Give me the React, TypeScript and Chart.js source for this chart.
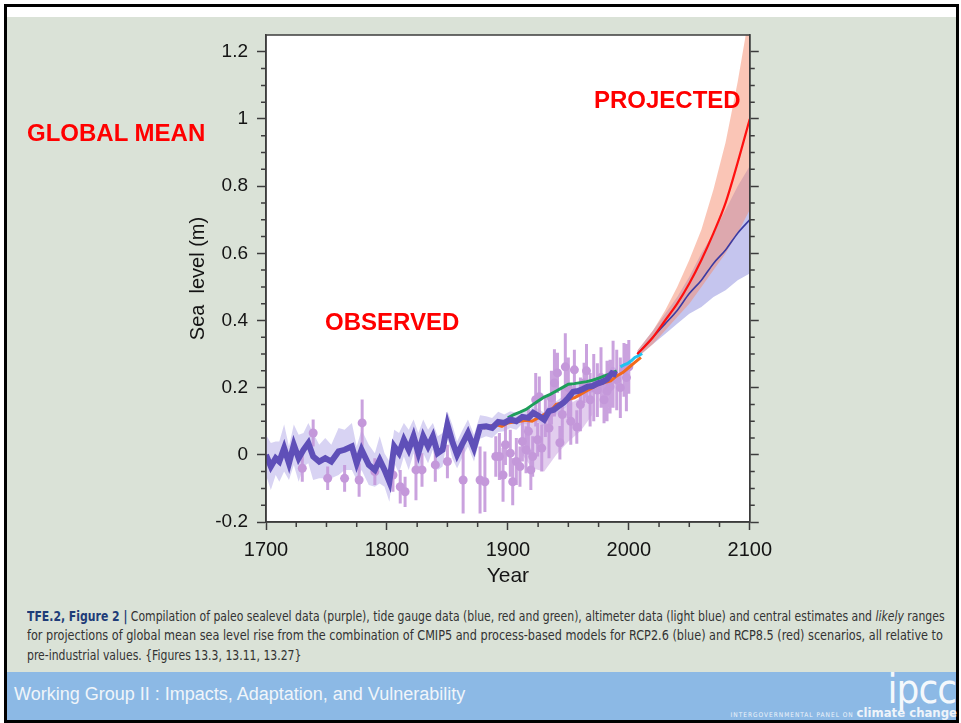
import React, { useEffect, useLayoutEffect, useRef } from 'react';
import { Chart, registerables } from 'chart.js';

Chart.register(...registerables);

// ---------- DATA ----------
const paleoYears = [
  1700, 1704, 1708, 1711, 1715, 1719, 1723, 1727, 1731, 1735,
  1739, 1744, 1749, 1754, 1760, 1765, 1771, 1775, 1779, 1785,
  1790, 1794, 1798, 1802, 1806, 1810, 1814, 1818, 1822, 1826,
  1830, 1834, 1838, 1842, 1846, 1850, 1854, 1858, 1862, 1867,
  1872, 1877, 1882, 1887, 1892, 1897, 1902, 1907, 1912, 1917,
  1921, 1926, 1930, 1934, 1938, 1942, 1946, 1950, 1954, 1958,
  1962, 1966, 1970, 1974, 1978, 1982, 1986, 1990,
];
const paleoLevel = [
  0.0, -0.035, -0.01, -0.02, 0.02, -0.025, 0.03, -0.01, 0.015, 0.035,
  -0.005, -0.02, -0.01, -0.02, 0.01, 0.015, 0.025, -0.025, 0.015, -0.03,
  -0.045, -0.015, -0.045, -0.08, 0.025, 0.005, 0.045, 0.015, 0.055, 0.005,
  0.055, 0.025, 0.055, 0.005, 0.015, 0.09, 0.04, 0.0, 0.03, 0.065,
  0.02, 0.083, 0.085, 0.08, 0.098, 0.095, 0.105, 0.1, 0.113, 0.11,
  0.125, 0.115, 0.105, 0.13, 0.134, 0.145, 0.155, 0.17, 0.188, 0.19,
  0.196, 0.203, 0.205, 0.212, 0.217, 0.225, 0.243, 0.238,
];
const paleoErr = [
  0.06, 0.07, 0.05, 0.06, 0.07, 0.05, 0.06, 0.07, 0.05, 0.06,
  0.07, 0.05, 0.06, 0.05, 0.07, 0.06, 0.07, 0.05, 0.06, 0.06,
  0.05, 0.07, 0.05, 0.06, 0.05, 0.06, 0.05, 0.06, 0.05, 0.06,
  0.05, 0.05, 0.04, 0.05, 0.05, 0.04, 0.05, 0.04, 0.04, 0.04,
  0.04, 0.035, 0.03, 0.03, 0.03, 0.025, 0.025, 0.025, 0.02, 0.02,
  0.02, 0.02, 0.02, 0.02, 0.02, 0.02, 0.02, 0.02, 0.02, 0.02,
  0.02, 0.02, 0.02, 0.02, 0.02, 0.02, 0.02, 0.02,
];

const proxyYears = [
  1730, 1739, 1751, 1765, 1777, 1779.5, 1790, 1805, 1811, 1815,
  1824, 1829, 1840, 1850, 1863, 1877, 1881, 1890, 1893, 1896,
  1898, 1902, 1904, 1907, 1910, 1912, 1915, 1917, 1919, 1920.5,
  1923, 1924.6, 1926, 1928, 1931, 1934, 1936, 1938.5, 1941, 1943,
  1945, 1947.5, 1950, 1952, 1955, 1957, 1960, 1963, 1965, 1968,
  1971, 1974, 1977, 1979.5, 1982, 1984.5, 1987, 1990, 1993, 1996,
  1998, 2000,
];
const proxyLevel = [
  -0.04, 0.065, -0.07, -0.07, -0.075, 0.095, -0.05, -0.06, -0.095, -0.11,
  -0.045, -0.045, -0.03, -0.02, -0.075, -0.075, -0.08, -0.005, -0.005, -0.06,
  0.03, 0.005, -0.08, -0.02, -0.035, 0.04, 0.015, 0.07, -0.045, -0.005,
  0.164, 0.045, 0.173, 0.02, 0.113, 0.08, 0.17, 0.214, 0.244, 0.036,
  0.12, 0.262, 0.2, 0.1, 0.253, 0.083, 0.15, 0.214, 0.25, 0.164,
  0.2, 0.193, 0.23, 0.164, 0.19, 0.203, 0.24, 0.223, 0.2, 0.253,
  0.23, 0.262,
];
const proxyErr = [
  0.04, 0.04, 0.035, 0.04, 0.05, 0.07, 0.04, 0.05, 0.05, 0.045,
  0.09, 0.05, 0.05, 0.05, 0.1, 0.1, 0.09, 0.06, 0.07, 0.08,
  0.06, 0.07, 0.07, 0.07, 0.06, 0.06, 0.07, 0.07, 0.06, 0.06,
  0.08, 0.05, 0.06, 0.07, 0.06, 0.09, 0.08, 0.1, 0.06, 0.05,
  0.08, 0.1, 0.09, 0.07, 0.06, 0.05, 0.08, 0.06, 0.08, 0.08,
  0.1, 0.08, 0.09, 0.07, 0.09, 0.08, 0.1, 0.09, 0.09, 0.08,
  0.1, 0.08,
];

const spreadYears = [1912, 1920, 1930, 1940, 1950, 1960, 1970];
const spreadUpper = [0.1, 0.11, 0.11, 0.13, 0.15, 0.17, 0.2];
const spreadLower = [0.0, -0.04, -0.05, 0.0, 0.04, 0.07, 0.12];

const tideRedYears = [
  1880, 1885, 1890, 1895, 1900, 1905, 1910, 1915, 1920, 1925, 1930, 1935, 1940, 1945,
  1950, 1955, 1960, 1965, 1970, 1975, 1980, 1985, 1990, 1995, 2000, 2005, 2010,
];
const tideRedLevel = [
  0.08, 0.085, 0.09, 0.085, 0.095, 0.098, 0.1, 0.103, 0.1, 0.11, 0.12, 0.13, 0.15, 0.155,
  0.165, 0.17, 0.18, 0.19, 0.2, 0.21, 0.215, 0.22, 0.235, 0.245, 0.26, 0.275, 0.29,
];

const tideGreenYears = [
  1900, 1905, 1910, 1915, 1920, 1925, 1930, 1935, 1940, 1945,
  1950, 1955, 1960, 1965, 1970, 1975, 1980, 1985, 1990,
];
const tideGreenLevel = [
  0.11, 0.12, 0.127, 0.135, 0.148, 0.16, 0.172, 0.18, 0.19, 0.2,
  0.21, 0.212, 0.215, 0.218, 0.222, 0.228, 0.235, 0.242, 0.25,
];

const altYears = [1993, 1996, 1999, 2002, 2005, 2008, 2011];
const altLevel = [0.262, 0.268, 0.272, 0.28, 0.29, 0.295, 0.302];

const projYears = [2007, 2020, 2030, 2040, 2050, 2060, 2070, 2080, 2090, 2100];
const rcp85Mean = [0.3, 0.35, 0.4, 0.45, 0.51, 0.58, 0.66, 0.75, 0.87, 1.0];
const rcp85High = [0.31, 0.37, 0.43, 0.5, 0.58, 0.67, 0.79, 0.93, 1.11, 1.32];
const rcp85Low = [0.29, 0.33, 0.37, 0.41, 0.45, 0.5, 0.55, 0.6, 0.66, 0.73];
const rcp26Mean = [0.3, 0.35, 0.39, 0.43, 0.48, 0.52, 0.57, 0.61, 0.66, 0.7];
const rcp26High = [0.31, 0.37, 0.42, 0.47, 0.53, 0.6, 0.66, 0.73, 0.8, 0.86];
const rcp26Low = [0.29, 0.33, 0.36, 0.39, 0.42, 0.44, 0.47, 0.49, 0.52, 0.54];

const xTickValues = [1700, 1800, 1900, 2000, 2100];
const yTickValues = [-0.2, 0, 0.2, 0.4, 0.6, 0.8, 1, 1.2];
const xMinorTicks = [1725, 1750, 1775, 1825, 1850, 1875, 1925, 1950, 1975, 2025, 2050, 2075];
const yMinorTicks = [
  -0.15, -0.1, -0.05, 0.05, 0.1, 0.15, 0.25, 0.3, 0.35, 0.45, 0.5, 0.55,
  0.65, 0.7, 0.75, 0.85, 0.9, 0.95, 1.05, 1.1, 1.15,
];

// ---------- helpers ----------
const pts = (xs: number[], ys: number[]) => xs.map((x, i) => ({ x, y: ys[i] }));
const FONT = '"Liberation Sans", Arial, sans-serif';
const AXIS = '#3c3c3c';

const plotBg = {
  id: 'plotBg',
  beforeDraw(chart: any) {
    const { ctx, chartArea: a } = chart;
    ctx.save();
    ctx.fillStyle = '#ffffff';
    ctx.fillRect(a.left, a.top, a.right - a.left, a.bottom - a.top);
    ctx.restore();
  },
};

const frameMinor = {
  id: 'frameMinor',
  afterDraw(chart: any) {
    const { ctx, chartArea: a, scales } = chart;
    ctx.save();
    ctx.strokeStyle = AXIS;
    ctx.lineWidth = 1.5;
    ctx.strokeRect(a.left, a.top, a.right - a.left, a.bottom - a.top);
    ctx.beginPath();
    yMinorTicks.forEach((v) => {
      const y = scales.y.getPixelForValue(v);
      ctx.moveTo(a.left, y);
      ctx.lineTo(a.left - 5, y);
      ctx.moveTo(a.right, y);
      ctx.lineTo(a.right + 5, y);
    });
    xMinorTicks.forEach((v) => {
      const x = scales.x.getPixelForValue(v);
      ctx.moveTo(x, a.bottom);
      ctx.lineTo(x, a.bottom + 5);
    });
    ctx.stroke();
    ctx.restore();
  },
};

function SeaLevelChart() {
  const ref = useRef<HTMLCanvasElement>(null);
  useEffect(() => {
    if (!ref.current) return;
    const errBars = proxyYears.flatMap((x, i) => [
      { x, y: proxyLevel[i] - proxyErr[i] },
      { x, y: proxyLevel[i] + proxyErr[i] },
      { x, y: null as any },
    ]);
    const band = (data: any[], color: string, fill: any) => ({
      data,
      borderWidth: 0,
      borderColor: 'transparent',
      backgroundColor: color,
      pointRadius: 0,
      fill,
      clip: 0,
    });
    const line = (data: any[], color: string, width: number, extra: any = {}) => ({
      data,
      borderColor: color,
      borderWidth: width,
      pointRadius: 0,
      fill: false,
      clip: 0,
      ...extra,
    });
    const list: any[] = [
      band(pts(paleoYears, paleoLevel.map((v, i) => v + paleoErr[i])), 'rgba(178,168,232,0.5)', '+1'),
      band(pts(paleoYears, paleoLevel.map((v, i) => v - paleoErr[i])), 'transparent', false),
      band(pts(spreadYears, spreadUpper), 'rgba(206,172,226,0.6)', '+1'),
      band(pts(spreadYears, spreadLower), 'transparent', false),
      line(errBars, 'rgba(196,152,218,0.9)', 3, { spanGaps: false }),
      {
        data: pts(proxyYears, proxyLevel),
        showLine: false,
        pointRadius: 4.5,
        pointBackgroundColor: 'rgba(196,152,218,1)',
        pointBorderWidth: 0,
        clip: 0,
      },
      band(pts(projYears, rcp26High), 'rgba(140,140,222,0.5)', '+1'),
      band(pts(projYears, rcp26Low), 'transparent', false),
      band(pts(projYears, rcp85High), 'rgba(246,140,110,0.5)', '+1'),
      band(pts(projYears, rcp85Low), 'transparent', false),
      line(pts(tideGreenYears, tideGreenLevel), '#1e9e5a', 3),
      line(pts(tideRedYears, tideRedLevel), '#f26a1b', 3),
      line(pts(paleoYears, paleoLevel), '#5f4fb8', 6),
      line(pts(altYears, altLevel), '#22c3ef', 3),
      line(pts(projYears, rcp26Mean), '#3b3ba3', 1.6, { cubicInterpolationMode: 'monotone' }),
      line(pts(projYears, rcp85Mean), '#ff1010', 2.2, { cubicInterpolationMode: 'monotone' }),
    ];
    const datasets = list.map((d, i) => ({ ...d, order: 100 - i }));

    const gridCommon = {
      drawOnChartArea: false,
      drawTicks: true,
      tickWidth: 1.5,
      tickColor: AXIS,
    };
    const border = { display: true, color: AXIS, width: 1.5 };
    const chart = new Chart(ref.current, {
      type: 'line',
      data: { datasets },
      plugins: [plotBg, frameMinor],
      options: {
        animation: false,
        responsive: false,
        maintainAspectRatio: false,
        events: [],
        layout: { padding: { top: 15, left: 0, right: 0, bottom: 0 } },
        plugins: { legend: { display: false }, tooltip: { enabled: false } },
        scales: {
          x: {
            type: 'linear',
            position: 'bottom',
            min: 1700,
            max: 2100,
            afterBuildTicks: (s: any) => {
              s.ticks = xTickValues.map((value) => ({ value }));
            },
            afterFit: (s: any) => {
              s.height = 73;
            },
            grid: { ...gridCommon, tickLength: 8 },
            border,
            ticks: {
              padding: 8,
              color: '#141414',
              font: { family: FONT, size: 20 },
              maxRotation: 0,
              autoSkip: false,
              callback: (v: any) => String(v),
            },
            title: {
              display: true,
              text: 'Year',
              color: '#141414',
              font: { family: FONT, size: 21 },
              padding: { top: 0, bottom: 6 },
            },
          },
          y: {
            type: 'linear',
            position: 'left',
            min: -0.2,
            max: 1.25,
            afterBuildTicks: (s: any) => {
              s.ticks = yTickValues.map((value) => ({ value }));
            },
            afterFit: (s: any) => {
              s.width = 116;
              s.paddingTop = 0;
              s.paddingBottom = 0;
            },
            grid: { ...gridCommon, tickLength: 9 },
            border,
            ticks: {
              padding: 9,
              color: '#141414',
              font: { family: FONT, size: 19 },
              callback: (v: any) => String(v),
            },
            title: {
              display: true,
              text: 'Sea  level (m)',
              color: '#141414',
              font: { family: FONT, size: 20 },
              padding: { top: 36, bottom: 0 },
            },
          },
          yRight: {
            type: 'linear',
            position: 'right',
            display: true,
            min: -0.2,
            max: 1.25,
            afterBuildTicks: (s: any) => {
              s.ticks = yTickValues.map((value) => ({ value }));
            },
            afterFit: (s: any) => {
              s.width = 26;
              s.paddingTop = 0;
              s.paddingBottom = 0;
            },
            grid: { ...gridCommon, tickLength: 9 },
            border,
            ticks: { display: true, callback: () => '', padding: 0 },
          },
        },
      } as any,
    });
    return () => chart.destroy();
  }, []);
  return (
    <canvas
      ref={ref}
      width={630}
      height={575}
      style={{ position: 'absolute', left: 150, top: 20, width: 630, height: 575 }}
    />
  );
}

const redLabel: React.CSSProperties = {
  position: 'absolute',
  color: '#ff0000',
  fontFamily: FONT,
  fontWeight: 'bold',
  fontSize: 24,
  lineHeight: '24px',
  whiteSpace: 'nowrap',
};

export default function App() {
  const l1 = useRef<HTMLSpanElement>(null);
  const l2 = useRef<HTMLSpanElement>(null);
  const l3 = useRef<HTMLSpanElement>(null);
  useLayoutEffect(() => {
    if (!l1.current || !l2.current || !l3.current) return;
    const s1 = 918 / l1.current.offsetWidth;
    const s2 = 916 / l2.current.offsetWidth;
    l1.current.style.transform = `scaleX(${s1})`;
    l3.current.style.transform = `scaleX(${s1})`;
    l2.current.style.transform = `scaleX(${s2})`;
  }, []);
  const capFont = '"Liberation Sans Narrow", "DejaVu Sans Condensed", "Liberation Sans", sans-serif';
  const capLine: React.CSSProperties = {
    position: 'absolute',
    left: 27,
    display: 'inline-block',
    whiteSpace: 'nowrap',
    transformOrigin: 'left center',
    fontFamily: capFont,
    fontSize: 14,
    lineHeight: '16px',
    color: '#333333',
  };
  return (
    <div
      style={{
        position: 'absolute',
        left: 0,
        top: 0,
        width: 961,
        height: 723,
        background: '#ffffff',
        overflow: 'hidden',
      }}
    >
      <div
        style={{
          position: 'absolute',
          left: 4,
          top: 4,
          width: 955,
          height: 719,
          boxSizing: 'border-box',
          border: '3px solid #000',
          background: '#ffffff',
        }}
      />
      <div style={{ position: 'absolute', left: 7, top: 17, width: 949, height: 655, background: '#dae2d7' }} />
      <div style={{ position: 'absolute', left: 7, top: 672, width: 949, height: 48, background: '#8cb9e5' }} />

      <SeaLevelChart />

      <div style={{ ...redLabel, left: 27, top: 121 }}>GLOBAL MEAN</div>
      <div style={{ ...redLabel, left: 594, top: 88 }}>PROJECTED</div>
      <div style={{ ...redLabel, left: 325, top: 310 }}>OBSERVED</div>

      <span ref={l1} style={{ ...capLine, top: 608 }}>
        <b style={{ color: '#1e3c78' }}>TFE.2, Figure 2 |</b> Compilation of paleo sealevel data (purple), tide gauge data
        (blue, red and green), altimeter data (light blue) and central estimates and <i>likely</i> ranges
      </span>
      <span ref={l2} style={{ ...capLine, top: 627 }}>
        for projections of global mean sea level rise from the combination of CMIP5 and process-based models for RCP2.6
        (blue) and RCP8.5 (red) scenarios, all relative to
      </span>
      <span ref={l3} style={{ ...capLine, top: 647 }}>
        pre-industrial values. {'{'}Figures 13.3, 13.11, 13.27{'}'}
      </span>

      <div
        style={{
          position: 'absolute',
          left: 14,
          top: 684,
          fontFamily: FONT,
          fontSize: 18,
          lineHeight: '20px',
          color: '#f0f5fa',
          whiteSpace: 'nowrap',
        }}
      >
        Working Group II : Impacts, Adaptation, and Vulnerability
      </div>
      <div
        style={{
          position: 'absolute',
          right: 5,
          top: 669,
          fontFamily: capFont,
          fontSize: 40,
          lineHeight: '40px',
          color: '#f4f8fc',
          whiteSpace: 'nowrap',
          letterSpacing: -1,
        }}
      >
        ipcc
      </div>
      <div
        style={{
          position: 'absolute',
          right: 4,
          top: 705,
          whiteSpace: 'nowrap',
          color: '#eef4fa',
          fontFamily: capFont,
          lineHeight: '13px',
        }}
      >
        <span style={{ fontSize: 6.5, letterSpacing: 1 }}>INTERGOVERNMENTAL PANEL ON </span>
        <span style={{ fontSize: 13, fontWeight: 'bold' }}>climate change</span>
      </div>
    </div>
  );
}
